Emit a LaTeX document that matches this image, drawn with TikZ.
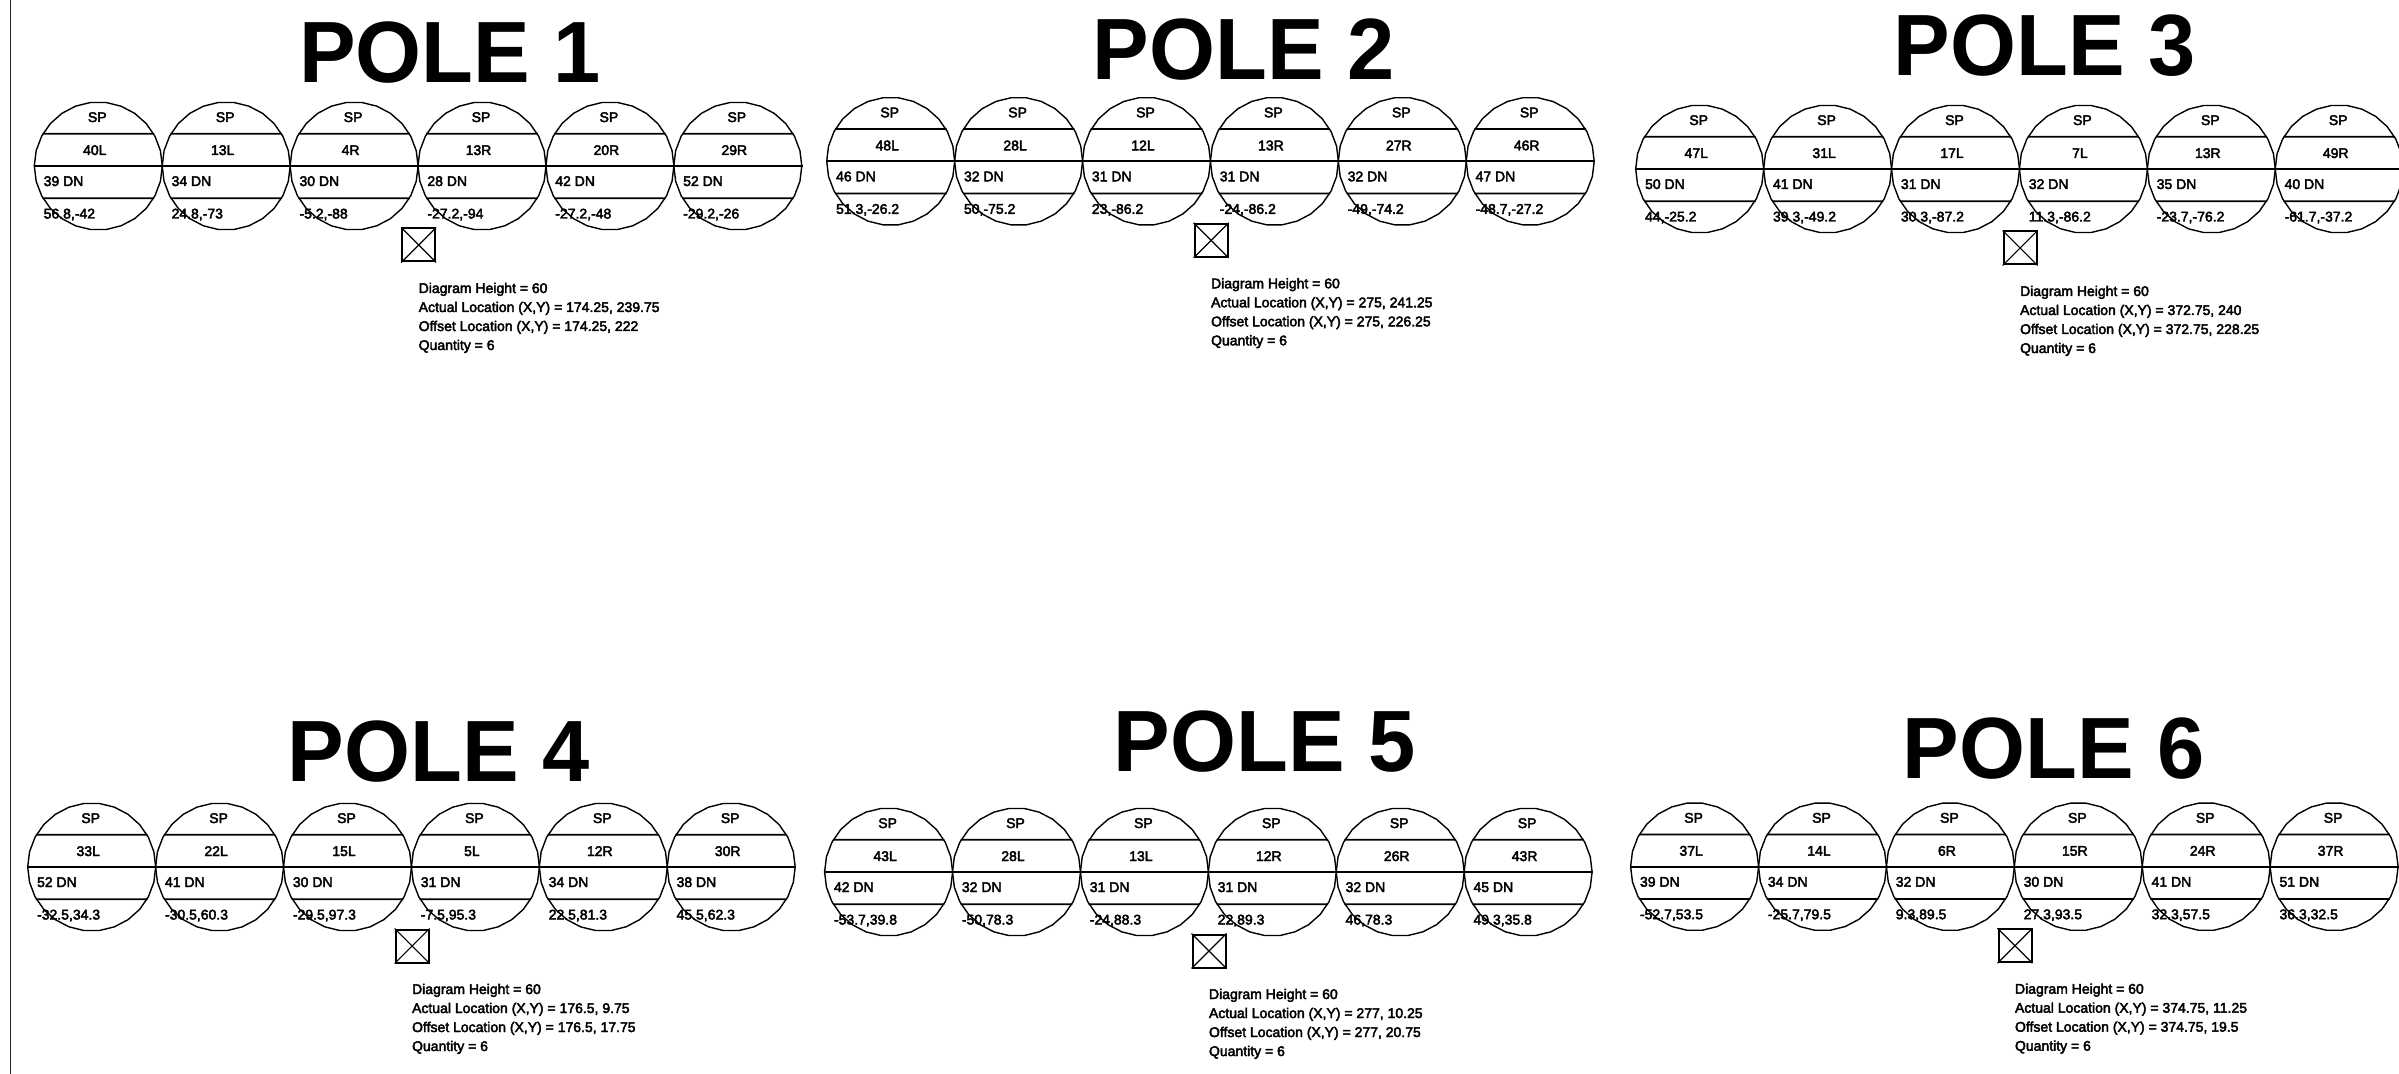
\documentclass[tikz,border=0pt]{standalone}
\usepackage{fontspec}
\usepackage{tikz}
\usetikzlibrary{shapes.geometric}
\setmainfont{Liberation Sans}[BoldFeatures={FakeStretch=0.975}]
\newfontfamily\cadfont[FakeBold=3]{Liberation Sans}

\tikzset{
    wirecircle/.style={draw, regular polygon, regular polygon sides=26, inner sep=0pt, minimum size=64pt, line width=0.7pt},
    chord/.style={line width=0.9pt},
    celltext/.style={font=\cadfont\fontsize{7}{8}\selectfont, inner sep=0pt},
    polebox/.style={draw, rectangle, minimum size=16.5pt, inner sep=0pt, line width=1pt},
    title/.style={font=\bfseries\fontsize{43.5}{44}\selectfont, inner sep=0pt, anchor=base west}
}

% #1 pole, #2 left edge, #3 centre line, #4,#5 title, #6 actual, #7 offset, #8 wires
\newcommand{\drawpole}[8]{
    \node[title] (title#1) at (#4,#5) {POLE #1};
    \begin{scope}[shift={(#2,#3)}]
        \foreach \bearing/\drop/\offs [count=\n] in {#8} {
            \pgfmathsetmacro{\cx}{64+127.9*(\n-1)}
            \node[wirecircle] (w#1c\n) at (\cx,0) {};
            \draw[chord] (w#1c\n.150) -- (w#1c\n.30);
            \draw[chord] (w#1c\n.180) -- (w#1c\n.0);
            \draw[chord] (w#1c\n.210) -- (w#1c\n.330);
            \node[celltext, anchor=base] (sp#1c\n) at (\cx-1,-44) {SP};
            \node[celltext, anchor=base] (brg#1c\n) at (\cx-3.5,-11) {\bearing};
            \node[celltext, anchor=base west] (drp#1c\n) at (\cx-55,20) {\drop};
            \node[celltext, anchor=base west] (off#1c\n) at (\cx-55,52.5) {\offs};
        }
        \node[polebox] (box#1) at (384.4,79) {};
        \draw[line width=0.6pt] (box#1.north west) -- (box#1.south east);
        \draw[line width=0.6pt] (box#1.north east) -- (box#1.south west);
        \node[celltext, anchor=north west] (info#1) at (384,113.3) {
            \fontsize{7}{9.5}\selectfont
            \begin{tabular}{@{}l@{}}
                Diagram Height = 60 \\
                Actual Location (X,Y) = #6 \\
                Offset Location (X,Y) = #7 \\
                Quantity = 6
            \end{tabular}
        };
    \end{scope}
}

\begin{document}
\begin{tikzpicture}[x=0.5pt, y=-0.5pt]
    \useasboundingbox (0,0) rectangle (2399,1074);
    \coordinate (frametop) at (10.3,0);
    \coordinate (framebot) at (10.3,1074);
    \draw[line width=0.5pt, black!85] (frametop) -- (framebot);

    \drawpole{1}{34.3}{166}{299}{83}{174.25, 239.75}{174.25, 222}{
        40L/39 DN/{56.8,-42}, 13L/34 DN/{24.8,-73}, 4R/30 DN/{-5.2,-88},
        13R/28 DN/{-27.2,-94}, 20R/42 DN/{-27.2,-48}, 29R/52 DN/{-29.2,-26}}
    \drawpole{2}{826.7}{161.3}{1092.5}{80}{275, 241.25}{275, 226.25}{
        48L/46 DN/{51.3,-26.2}, 28L/32 DN/{50,-75.2}, 12L/31 DN/{23,-86.2},
        13R/31 DN/{-24,-86.2}, 27R/32 DN/{-49,-74.2}, 46R/47 DN/{-48.7,-27.2}}
    \drawpole{3}{1635.7}{169}{1893.5}{76}{372.75, 240}{372.75, 228.25}{
        47L/50 DN/{44,-25.2}, 31L/41 DN/{39.3,-49.2}, 17L/31 DN/{30.3,-87.2},
        7L/32 DN/{11.3,-86.2}, 13R/35 DN/{-23.7,-76.2}, 49R/40 DN/{-61.7,-37.2}}
    \drawpole{4}{27.7}{867}{287.5}{781}{176.5, 9.75}{176.5, 17.75}{
        33L/52 DN/{-32.5,34.3}, 22L/41 DN/{-30.5,60.3}, 15L/30 DN/{-29.5,97.3},
        5L/31 DN/{-7.5,95.3}, 12R/34 DN/{22.5,81.3}, 30R/38 DN/{45.5,62.3}}
    \drawpole{5}{824.6}{872}{1113.5}{771.7}{277, 10.25}{277, 20.75}{
        43L/42 DN/{-53.7,39.8}, 28L/32 DN/{-50,78.3}, 13L/31 DN/{-24,88.3},
        12R/31 DN/{22,89.3}, 26R/32 DN/{46,78.3}, 43R/45 DN/{49.3,35.8}}
    \drawpole{6}{1630.6}{866.7}{1902.5}{778.7}{374.75, 11.25}{374.75, 19.5}{
        37L/39 DN/{-52.7,53.5}, 14L/34 DN/{-25.7,79.5}, 6R/32 DN/{9.3,89.5},
        15R/30 DN/{27.3,93.5}, 24R/41 DN/{32.3,57.5}, 37R/51 DN/{36.3,32.5}}
\end{tikzpicture}
\end{document}
